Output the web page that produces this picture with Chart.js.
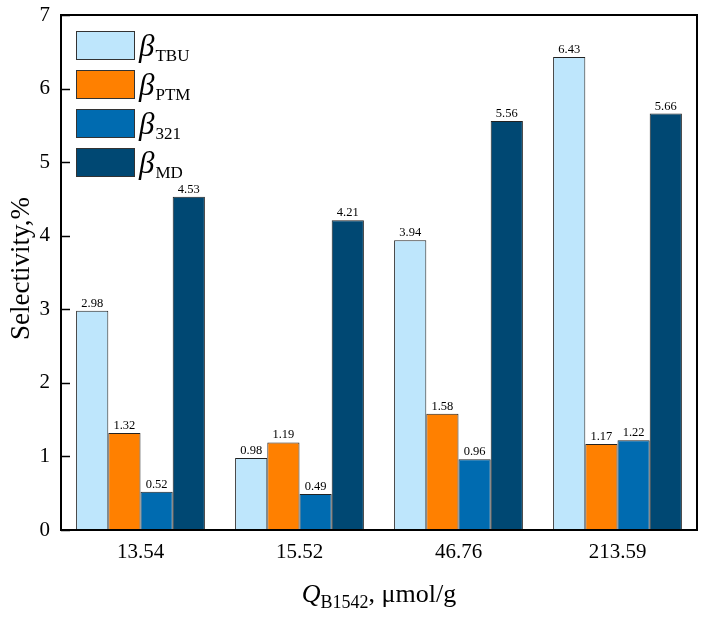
<!DOCTYPE html>
<html>
<head>
<meta charset="utf-8">
<script src="https://cdn.jsdelivr.net/npm/chart.js@4"></script>
<style>
  html, body { margin: 0; padding: 0; background: #fff; }
  #wrap { width: 708px; height: 620px; }
</style>
</head>
<body>
<div id="wrap"><canvas id="chartSel" width="708" height="620"></canvas></div>
<script>
// Datos
const categories = ['13.54', '15.52', '46.76', '213.59'];
const seriesNames = ['TBU', 'PTM', '321', 'MD'];
const tbu = [2.98, 0.98, 3.94, 6.43];
const ptm = [1.32, 1.19, 1.58, 1.17];
const b321 = [0.52, 0.49, 0.96, 1.22];
const md = [4.53, 4.21, 5.56, 5.66];
const yTicks = [0, 1, 2, 3, 4, 5, 6, 7];

const colors = ['#bee6fc', '#ff8000', '#006bb0', '#004873'];
const serif = '"Liberation Serif", "Times New Roman", serif';

// Etiquetas de valor, leyenda, marcas y títulos con subíndices
const annotate = {
    id: 'annotate',
    afterDatasetsDraw(chart) {
        const ctx = chart.ctx;
        const area = chart.chartArea;
        ctx.save();

        // marcas del eje y hacia dentro
        const ys = chart.scales.y;
        ctx.strokeStyle = '#000';
        ctx.lineWidth = 1.5;
        yTicks.forEach(v => {
            const py = Math.round(ys.getPixelForValue(v)) + 0.5;
            ctx.beginPath();
            ctx.moveTo(area.left, py);
            ctx.lineTo(area.left + 9, py);
            ctx.stroke();
        });

        ctx.fillStyle = '#000';
        ctx.font = '12.5px ' + serif;
        ctx.textAlign = 'center';
        ctx.textBaseline = 'bottom';
        chart.data.datasets.forEach((ds, i) => {
            chart.getDatasetMeta(i).data.forEach((bar, j) => {
                ctx.fillText(ds.data[j].toFixed(2), bar.x, bar.y - 1);
            });
        });

        // leyenda
        seriesNames.forEach((name, i) => {
            const x = area.left + 15, y = area.top + 16 + i * 39;
            ctx.fillStyle = colors[i];
            ctx.fillRect(x, y, 59, 29);
            ctx.strokeStyle = '#333';
            ctx.lineWidth = 1;
            ctx.strokeRect(x + 0.5, y + 0.5, 58, 28);
            ctx.fillStyle = '#000';
            ctx.textAlign = 'left';
            ctx.textBaseline = 'alphabetic';
            ctx.font = 'italic 31px ' + serif;
            ctx.fillText('β', x + 63, y + 25);
            const bw = ctx.measureText('β').width;
            ctx.font = '17px ' + serif;
            ctx.fillText(name, x + 63 + bw + 1, y + 30);
        });

        // título eje x
        const cx = (area.left + area.right) / 2;
        const parts = [['italic 26px ', 'Q', 0], ['18px ', 'B1542', 6], ['26px ', ', μmol/g', 0]];
        let total = 0;
        parts.forEach(p => { ctx.font = p[0] + serif; total += ctx.measureText(p[1]).width; });
        let px = cx - total / 2;
        parts.forEach(p => {
            ctx.font = p[0] + serif;
            ctx.fillText(p[1], px, 602 + p[2]);
            px += ctx.measureText(p[1]).width;
        });

        // título eje y
        ctx.translate(22, (area.top + area.bottom) / 2 - 4);
        ctx.rotate(-Math.PI / 2);
        ctx.textAlign = 'center';
        ctx.textBaseline = 'middle';
        ctx.font = '27px ' + serif;
        ctx.fillText('Selectivity,%', 0, 0);
        ctx.restore();

        // marco
        ctx.save();
        ctx.strokeStyle = '#000';
        ctx.lineWidth = 2;
        ctx.strokeRect(area.left, area.top, area.right - area.left, area.bottom - area.top);
        ctx.restore();
    }
};

const values = [tbu, ptm, b321, md];
new Chart(document.getElementById('chartSel').getContext('2d'), {
    type: 'bar',
    data: {
        labels: categories,
        datasets: seriesNames.map((n, i) => ({
            label: n,
            data: values[i],
            backgroundColor: colors[i],
            borderColor: '#222',
            borderWidth: 1,
            barPercentage: 1.0,
            categoryPercentage: 0.81
        }))
    },
    options: {
        responsive: false,
        animation: false,
        layout: { padding: { top: 15, right: 11, bottom: 0, left: 0 } },
        plugins: {
            legend: { display: false },
            tooltip: { enabled: false }
        },
        scales: {
            x: {
                grid: { display: false, drawTicks: false },
                border: { display: false },
                ticks: { color: '#000', font: { family: serif, size: 21 }, padding: 10 },
                afterFit(scale) { scale.height = 90; scale.paddingLeft = 0; scale.paddingRight = 0; }
            },
            y: {
                min: 0,
                max: 7,
                afterBuildTicks(scale) { scale.ticks = yTicks.map(v => ({ value: v })); },
                grid: { display: false, drawTicks: false },
                border: { display: false },
                ticks: { color: '#000', font: { family: serif, size: 21 }, padding: 11 },
                afterFit(scale) { scale.width = 61; scale.paddingTop = 0; scale.paddingBottom = 0; }
            }
        }
    },
    plugins: [annotate]
});
</script>
</body>
</html>
